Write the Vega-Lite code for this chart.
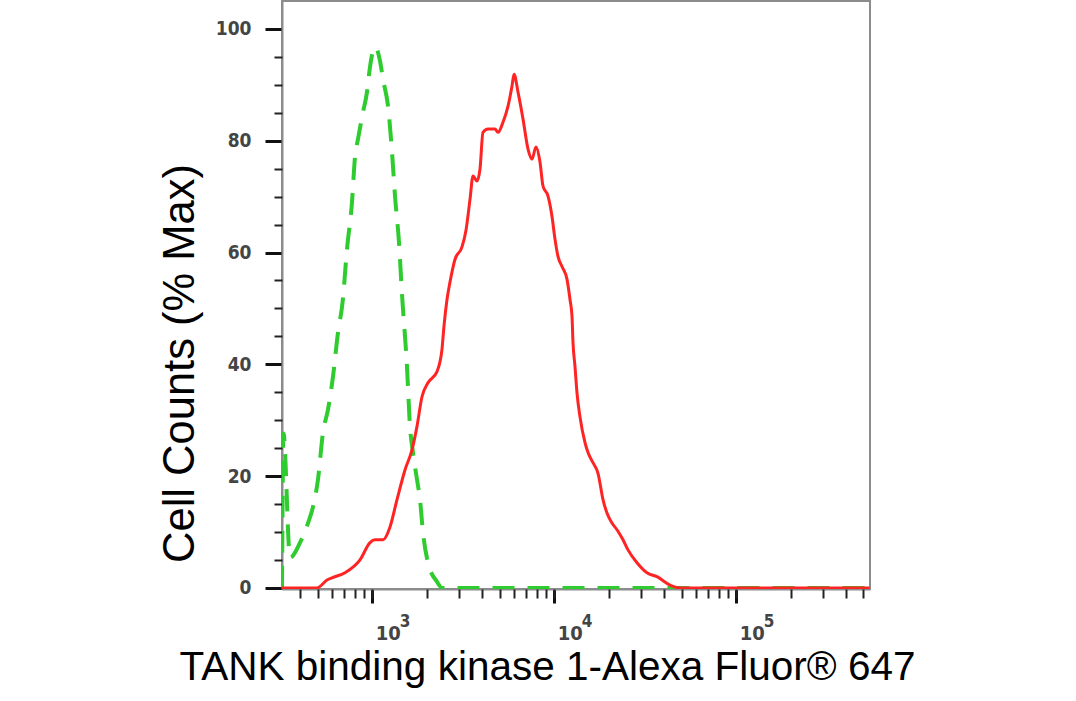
{
  "$schema": "https://vega.github.io/schema/vega-lite/v6.json",
  "autosize": {"type": "none"},
  "padding": {"left": 282, "top": 1, "right": 206, "bottom": 112},
  "width": 588,
  "height": 588,
  "background": "white",
  "config": {
    "view": {"stroke": "#8c8c8c", "strokeWidth": 2},
    "axis": {"grid": false, "labelOverlap": false, "labelFlush": false}
  },
  "datasets": {
    "control": [
      {"intensity": 319.0, "pct": 0},
      {"intensity": 325.1, "pct": 27.6},
      {"intensity": 353.0, "pct": 5.4},
      {"intensity": 400.7, "pct": 8.1},
      {"intensity": 443.3, "pct": 11.6},
      {"intensity": 472.2, "pct": 14.5},
      {"intensity": 502.9, "pct": 19.4},
      {"intensity": 535.8, "pct": 27.8},
      {"intensity": 570.8, "pct": 31.9},
      {"intensity": 608.1, "pct": 37.8},
      {"intensity": 647.9, "pct": 45.7},
      {"intensity": 686.0, "pct": 51.0},
      {"intensity": 726.0, "pct": 60.6},
      {"intensity": 773.4, "pct": 69.0},
      {"intensity": 803.3, "pct": 77.1},
      {"intensity": 834.3, "pct": 80.3},
      {"intensity": 888.9, "pct": 85.1},
      {"intensity": 935.0, "pct": 88.7},
      {"intensity": 971.2, "pct": 93.2},
      {"intensity": 1034.7, "pct": 96.8},
      {"intensity": 1102.3, "pct": 94.3},
      {"intensity": 1145.0, "pct": 91.0},
      {"intensity": 1219.9, "pct": 86.2},
      {"intensity": 1283.0, "pct": 78.0},
      {"intensity": 1332.6, "pct": 70.1},
      {"intensity": 1401.8, "pct": 61.8},
      {"intensity": 1456.1, "pct": 52.5},
      {"intensity": 1550.7, "pct": 39.6},
      {"intensity": 1610.8, "pct": 28.9},
      {"intensity": 1673.1, "pct": 24.2},
      {"intensity": 1760.0, "pct": 19.4},
      {"intensity": 1828.4, "pct": 15.8},
      {"intensity": 1899.1, "pct": 9.9},
      {"intensity": 2023.0, "pct": 4.5},
      {"intensity": 2267.0, "pct": 1.1},
      {"intensity": 2415.0, "pct": 0},
      {"intensity": 540000, "pct": 0}
    ],
    "sample": [
      {"intensity": 319.0, "pct": 0},
      {"intensity": 496.7, "pct": 0},
      {"intensity": 563.6, "pct": 1.4},
      {"intensity": 600.5, "pct": 1.8},
      {"intensity": 707.9, "pct": 2.7},
      {"intensity": 855.8, "pct": 5.0},
      {"intensity": 971.2, "pct": 8.1},
      {"intensity": 1034.7, "pct": 8.6},
      {"intensity": 1145.0, "pct": 8.6},
      {"intensity": 1251.0, "pct": 10.9},
      {"intensity": 1367.0, "pct": 15.8},
      {"intensity": 1512.0, "pct": 21.1},
      {"intensity": 1652.0, "pct": 24.7},
      {"intensity": 1760.0, "pct": 28.9},
      {"intensity": 1875.0, "pct": 34.2},
      {"intensity": 2023.0, "pct": 36.7},
      {"intensity": 2267.0, "pct": 38.7},
      {"intensity": 2415.0, "pct": 42.7},
      {"intensity": 2476.0, "pct": 46.8},
      {"intensity": 2573.0, "pct": 51.6},
      {"intensity": 2672.0, "pct": 54.7},
      {"intensity": 2848.0, "pct": 58.8},
      {"intensity": 3111.0, "pct": 61.0},
      {"intensity": 3272.0, "pct": 64.0},
      {"intensity": 3442.0, "pct": 69.5},
      {"intensity": 3575.0, "pct": 73.7},
      {"intensity": 3760.0, "pct": 72.8},
      {"intensity": 3905.0, "pct": 74.9},
      {"intensity": 4056.0, "pct": 81.5},
      {"intensity": 4323.0, "pct": 82.1},
      {"intensity": 4722.0, "pct": 82.1},
      {"intensity": 4905.0, "pct": 81.5},
      {"intensity": 5225.0, "pct": 83.3},
      {"intensity": 5568.0, "pct": 86.2},
      {"intensity": 5857.0, "pct": 89.8},
      {"intensity": 6007.0, "pct": 91.9},
      {"intensity": 6318.0, "pct": 88.7},
      {"intensity": 6730.0, "pct": 83.9},
      {"intensity": 7171.0, "pct": 78.5},
      {"intensity": 7543.0, "pct": 76.7},
      {"intensity": 7932.0, "pct": 78.9},
      {"intensity": 8343.0, "pct": 76.2},
      {"intensity": 8667.0, "pct": 71.9},
      {"intensity": 9235.0, "pct": 70.1},
      {"intensity": 9710.0, "pct": 66.5},
      {"intensity": 10088.0, "pct": 62.4},
      {"intensity": 10478.0, "pct": 59.3},
      {"intensity": 11023.0, "pct": 57.5},
      {"intensity": 11745.0, "pct": 55.2},
      {"intensity": 12198.0, "pct": 51.6},
      {"intensity": 12510.0, "pct": 48.6},
      {"intensity": 12669.0, "pct": 43.9},
      {"intensity": 12994.0, "pct": 39.6},
      {"intensity": 13326.0, "pct": 34.9},
      {"intensity": 13841.0, "pct": 30.6},
      {"intensity": 14749.0, "pct": 26.0},
      {"intensity": 15319.0, "pct": 24.2},
      {"intensity": 16318.0, "pct": 22.4},
      {"intensity": 17384.0, "pct": 20.5},
      {"intensity": 18516.0, "pct": 15.8},
      {"intensity": 19475.0, "pct": 13.4},
      {"intensity": 20749.0, "pct": 11.6},
      {"intensity": 22107.0, "pct": 10.4},
      {"intensity": 23850.0, "pct": 8.6},
      {"intensity": 25406.0, "pct": 6.8},
      {"intensity": 28475.0, "pct": 4.5},
      {"intensity": 32310.0, "pct": 2.7},
      {"intensity": 36668.0, "pct": 2.0},
      {"intensity": 43229.0, "pct": 0.5},
      {"intensity": 49062.0, "pct": 0},
      {"intensity": 540000, "pct": 0}
    ]
  },
  "layer": [
    {
      "data": {"name": "control"},
      "mark": {"type": "line", "color": "#2ecc2e", "strokeWidth": 4, "strokeDash": [22, 13], "strokeCap": "butt", "interpolate": "monotone", "clip": true},
      "encoding": {
        "x": {
          "field": "intensity", "type": "quantitative",
          "scale": {"type": "log", "domain": [319, 542900], "nice": false},
          "axis": {
            "orient": "bottom",
            "values": [1000, 10000, 100000],
            "labelExpr": "'10'",
            "labelFont": "Liberation Sans Narrow, DejaVu Sans Condensed, Arial Narrow, sans-serif",
            "labelFontSize": 20,
            "labelFontWeight": "bold",
            "labelColor": "#444",
            "labelAlign": "left",
            "labelBaseline": "alphabetic",
            "labelOffset": 3,
            "labelPadding": 36,
            "tickSize": 14,
            "tickWidth": 3,
            "tickColor": "#111",
            "domainColor": "#8c8c8c",
            "domainWidth": 2,
            "title": "TANK binding kinase 1-Alexa Fluor® 647",
            "titleFont": "Liberation Sans, Arial, sans-serif",
            "titleFontSize": 40.5,
            "titleFontWeight": "normal",
            "titleColor": "#000",
            "titleBaseline": "alphabetic",
            "titleAlign": "center",
            "titleX": 265,
            "titleY": 90
          }
        },
        "y": {
          "field": "pct", "type": "quantitative",
          "scale": {"domain": [-0.2, 105], "nice": false, "zero": false},
          "axis": {
            "orient": "left",
            "values": [0, 20, 40, 60, 80, 100],
            "labelFont": "Liberation Sans Narrow, DejaVu Sans Condensed, Arial Narrow, sans-serif",
            "labelFontSize": 19,
            "labelFontWeight": "bold",
            "labelColor": "#444",
            "labelPadding": 14,
            "tickSize": 17,
            "tickWidth": 3,
            "tickColor": "#111",
            "domainColor": "#8c8c8c",
            "domainWidth": 2,
            "title": "Cell Counts (% Max)",
            "titleFont": "Liberation Sans, Arial, sans-serif",
            "titleFontSize": 43.5,
            "titleFontWeight": "normal",
            "titleColor": "#000",
            "titleBaseline": "alphabetic",
            "titleAlign": "center",
            "titleX": -89,
            "titleY": 362
          }
        }
      }
    },
    {
      "data": {"name": "sample"},
      "mark": {"type": "line", "color": "#ff2424", "strokeWidth": 3, "interpolate": "monotone", "clip": true},
      "encoding": {
        "x": {
          "field": "intensity", "type": "quantitative",
          "axis": {
            "orient": "bottom",
            "values": [400, 500, 600, 700, 800, 900, 1000, 2000, 3000, 4000, 5000, 6000, 7000, 8000, 9000, 10000, 20000, 30000, 40000, 50000, 60000, 70000, 80000, 90000, 100000, 200000, 300000, 400000, 500000],
            "labelExpr": "datum.value == 1000 ? '3' : datum.value == 10000 ? '4' : datum.value == 100000 ? '5' : ''",
            "labelFont": "Liberation Sans Narrow, DejaVu Sans Condensed, Arial Narrow, sans-serif",
            "labelFontSize": 17,
            "labelFontWeight": "bold",
            "labelColor": "#444",
            "labelAlign": "left",
            "labelBaseline": "alphabetic",
            "labelOffset": 27,
            "labelPadding": 28,
            "tickSize": 9,
            "tickWidth": 2,
            "tickColor": "#222",
            "domain": false,
            "title": null
          }
        },
        "y": {
          "field": "pct", "type": "quantitative",
          "axis": {
            "orient": "left",
            "values": [5, 10, 15, 25, 30, 35, 45, 50, 55, 65, 70, 75, 85, 90, 95],
            "labels": false,
            "tickSize": 8,
            "tickWidth": 2,
            "tickColor": "#222",
            "domain": false,
            "title": null
          }
        }
      }
    }
  ],
  "resolve": {"axis": {"x": "independent", "y": "independent"}}
}
